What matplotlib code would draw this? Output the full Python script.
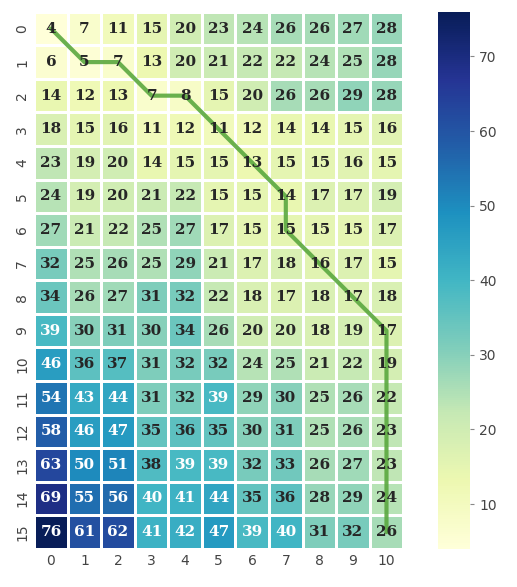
import numpy as np
import matplotlib
matplotlib.use('Agg')
import matplotlib.pyplot as plt
import seaborn as sns

# matricea de cost acumulat (16 x 11)
cost = np.array([
    [4, 7, 11, 15, 20, 23, 24, 26, 26, 27, 28],
    [6, 5, 7, 13, 20, 21, 22, 22, 24, 25, 28],
    [14, 12, 13, 7, 8, 15, 20, 26, 26, 29, 28],
    [18, 15, 16, 11, 12, 11, 12, 14, 14, 15, 16],
    [23, 19, 20, 14, 15, 15, 13, 15, 15, 16, 15],
    [24, 19, 20, 21, 22, 15, 15, 14, 17, 17, 19],
    [27, 21, 22, 25, 27, 17, 15, 15, 15, 15, 17],
    [32, 25, 26, 25, 29, 21, 17, 18, 16, 17, 15],
    [34, 26, 27, 31, 32, 22, 18, 17, 18, 17, 18],
    [39, 30, 31, 30, 34, 26, 20, 20, 18, 19, 17],
    [46, 36, 37, 31, 32, 32, 24, 25, 21, 22, 19],
    [54, 43, 44, 31, 32, 39, 29, 30, 25, 26, 22],
    [58, 46, 47, 35, 36, 35, 30, 31, 25, 26, 23],
    [63, 50, 51, 38, 39, 39, 32, 33, 26, 27, 23],
    [69, 55, 56, 40, 41, 44, 35, 36, 28, 29, 24],
    [76, 61, 62, 41, 42, 47, 39, 40, 31, 32, 26],
])

# drumul optim (rand, coloana)
path_rows = [0, 1, 1, 2, 2, 3, 4, 5, 6, 7, 8, 9, 10, 11, 12, 13, 14, 15]
path_cols = [0, 1, 2, 3, 4, 5, 6, 7, 7, 8, 9, 10, 10, 10, 10, 10, 10, 10]

sns.set_theme()
fig = plt.figure(figsize=(5.17, 5.87), dpi=100)
ax = fig.add_axes([0.066, 0.065, 0.714, 0.915])
cax = fig.add_axes([0.847, 0.065, 0.062, 0.915])

sns.heatmap(cost, ax=ax, cbar_ax=cax, cmap='YlGnBu', annot=True, fmt='d',
            linewidths=0.8, linecolor='white',
            annot_kws={'family': 'DejaVu Serif', 'weight': 'bold', 'size': 11})

ax.plot(np.array(path_cols) + 0.5, np.array(path_rows) + 0.5,
        color='#5aa83f', linewidth=3, alpha=0.9)

ax.tick_params(axis='both', labelsize=10, colors='#444444', length=0)
cax.tick_params(labelsize=10, colors='#444444', length=3, width=0.8)
cax.yaxis.set_tick_params(color='#888888')

plt.savefig('out.png', dpi=100)
